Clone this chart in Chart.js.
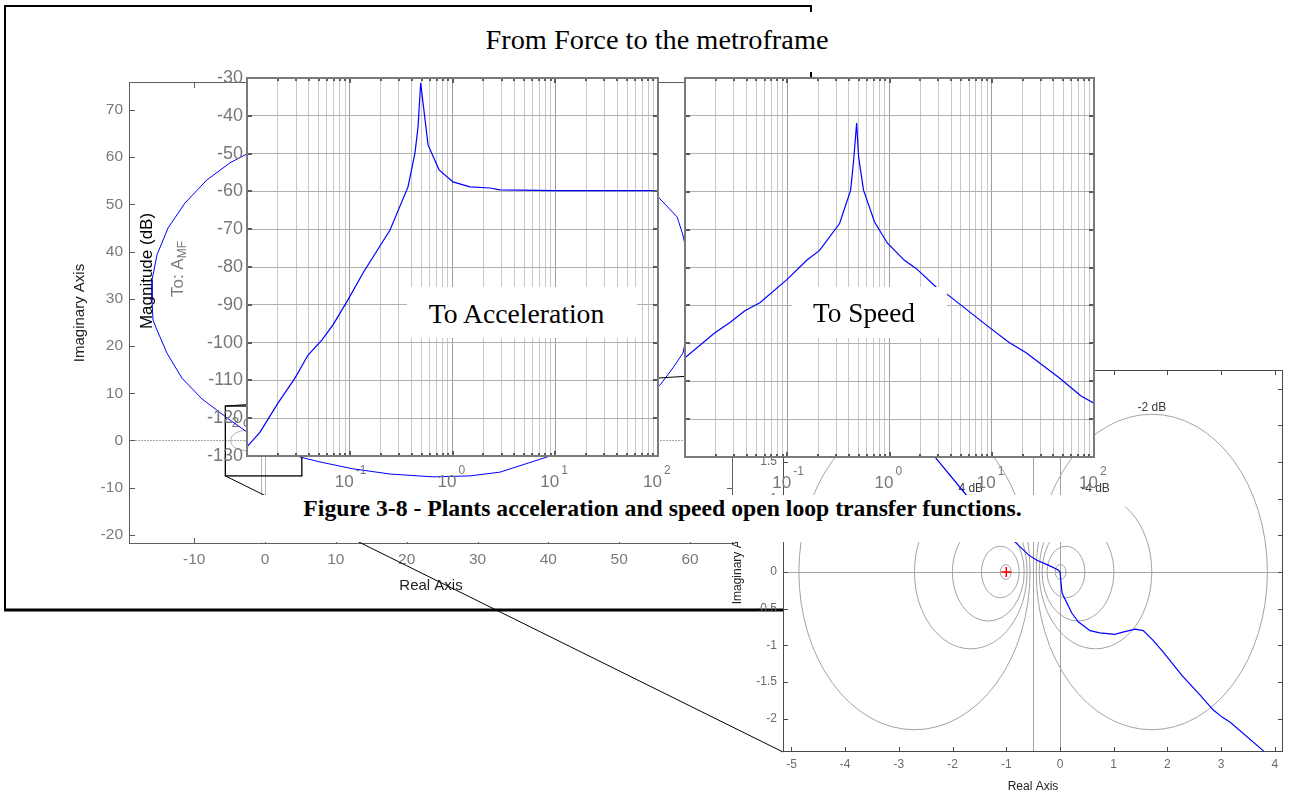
<!DOCTYPE html>
<html lang="en">
<head>
<meta charset="utf-8">
<title>From Force to the metroframe</title>
<script src="https://cdn.jsdelivr.net/npm/chart.js@4.4.1/dist/chart.umd.min.js"></script>
<style>
  html, body { margin: 0; padding: 0; background: #fff; }
  body { position: relative; width: 1290px; height: 796px; overflow: hidden; }
  canvas { position: absolute; }
  .tbox { position: absolute; background: #fff; }
  .tbox span { position: absolute; white-space: nowrap; line-height: 1; color: #000;
               font-family: "Liberation Serif", "DejaVu Serif", serif; transform: translateX(-50%); }
</style>
</head>
<body>
<canvas id="nyqBig"></canvas>
<canvas id="deco"></canvas>
<canvas id="nyqZoom"></canvas>
<canvas id="bodeAcc"></canvas>
<canvas id="bodeSpd"></canvas>
<script>
// ---------- frequency responses (rad/s, dB) ----------
const accFreq = [0.01, 0.0134, 0.020, 0.0293, 0.0393, 0.0537, 0.0687, 0.096, 0.1346, 0.2466, 0.369, 0.4315, 0.4617, 0.49, 0.578, 0.74, 1.01, 1.48, 2.32, 2.9, 10, 100];
const accMag  = [-127.6, -123.7, -116.0, -109.4, -103.3, -99.3, -95.3, -88.7, -81.6, -70.2, -58.8, -49.8, -43.0, -31.3, -47.7, -54.3, -57.5, -58.8, -59.1, -59.6, -59.8, -59.8];

const spdFreq = [0.01, 0.0196, 0.0275, 0.0385, 0.054, 0.101, 0.155, 0.207, 0.325, 0.417, 0.446, 0.477, 0.499, 0.557, 0.714, 0.955, 1.40, 1.83, 2.87, 3.60, 9.46, 14.8, 21.7, 45.6, 74.7, 100];
const spdMag  = [-103.8, -97.2, -94.5, -91.4, -89.3, -83.0, -78.1, -75.5, -68.4, -59.6, -51.7, -41.9, -50.9, -59.6, -68.0, -73.6, -78.1, -80.3, -85.2, -86.9, -95.8, -99.8, -102.5, -109.1, -113.9, -115.8];

// ---------- Nyquist locus ----------
const nyqRe = [16, -2.54, -4.94, -8.19, -11.29, -13.69, -15.25, -15.95, -15.95, -15.81, -15.25, -13.84, -11.72, -8.89, -5.36,
  -2.33, -1.71, -0.81, -0.58, -0.43, -0.24, -0.04, 0, 0.04, 0.22, 0.34, 0.56, 0.74, 1.02, 1.17, 1.40, 1.55, 1.73, 1.92, 2.27,
  2.61, 2.85, 3.02, 3.17, 3.82, 4.94, 7.77, 12.42, 17.65, 23.72, 28.94, 33.18, 39.81, 48.0, 55.8, 57.6, 59.0, 60.8, 59.0,
  58.2, 55.5, 45.0, 30.0, 16.0];
const nyqIm = [66.5, 60.7, 58.8, 55.2, 50.3, 45.0, 39.3, 34.0, 29.8, 25.5, 23.4, 18.5, 13.2, 8.8, 4.8,
  1.57, 1.02, 0.39, 0.23, 0.16, 0.10, 0.03, 0, -0.29, -0.56, -0.68, -0.80, -0.83, -0.85, -0.82, -0.78, -0.80, -0.93, -1.09, -1.41,
  -1.68, -1.88, -1.98, -2.05, -2.46, -3.5, -4.55, -6.0, -7.1, -7.7, -7.5, -6.7, -3.5, 3.0, 11.8, 15.4, 18.5, 31.0, 43.5,
  47.3, 51.6, 60.0, 65.5, 66.5];
const criticalPoint = [-1, 0];

// ---------- ticks and grid levels ----------
const magTicks = [-130, -120, -110, -100, -90, -80, -70, -60, -50, -40, -30];
const decadeTicks = [0.1, 1, 10, 100];
const mCircleDb = [-20, -10, -6, -4, -2, 2, 4, 6, 10, 20];
const bigReTicks = [-10, 0, 10, 20, 30, 40, 50, 60];
const bigImTicks = [-20, -10, 0, 10, 20, 30, 40, 50, 60, 70];
const zoomReTicks = [-5, -4, -3, -2, -1, 0, 1, 2, 3, 4];
const zoomImTicks = [-2, -1.5, -1, -0.5, 0, 0.5, 1, 1.5, 2, 2.5];

// ---------- page layout: plot-area corners [l, t, r, b] and canvas margins [l, t, r, b] ----------
const LAYOUT = {
  nyqBig:  {plot: [129, 82, 733, 544],   pad: [70, 22, 12, 56]},
  nyqZoom: {plot: [783, 370, 1283, 752], pad: [58, 10, 7, 44]},
  bodeAcc: {plot: [247, 78, 658, 456],   pad: [122, 13, 20, 44]},
  bodeSpd: {plot: [685, 78, 1094, 457],  pad: [15, 13, 16, 43]}
};
const RANGE = {
  big:  {x: [-19.2, 66.07], y: [-21.92, 75.92]},
  zoom: {x: [-5.158, 4.153], y: [-2.456, 2.756]},
  bode: {x: [0.01, 100], y: [-130, -30]}
};
const ZOOM_BOX = {x: [-5.6, 5.2], y: [-7.5, 7.3]};

const SANS = '"Liberation Sans", Arial, sans-serif';
const DECO = {
  nyqBig: {xTicks: bigReTicks, yTicks: bigImTicks, tickLen: 6, labelSize: 15.5, labelColor: '#7a7a7a',
           xLabelGap: 20, yLabelGap: 6, titleSize: 15, xTitleGap: 46, yTitleGap: 49, yTitleShift: 0,
           gridColor: '#b5b5b5', realAxisColor: '#a8a8a8', realAxisDash: [2, 1], mLabelSize: 14, mLabelColor: '#808080',
           labelDb: [2], axisColor: '#5f5f5f'},
  nyqZoom: {xTicks: zoomReTicks, yTicks: zoomImTicks, tickLen: 5, labelSize: 12, labelColor: '#6a6a6a',
           xLabelGap: 16, yLabelGap: 6, titleSize: 12, xTitleGap: 38, yTitleGap: 45, yTitleShift: 4,
           gridColor: '#a4a4a4', realAxisColor: '#a4a4a4', realAxisDash: [], mLabelSize: 12, mLabelColor: '#3a3a3a',
           labelDb: [-4, -2, 2, 4], axisColor: '#4a4a4a'},
  bodeAcc: {yLabels: true, yTitle: true},
  bodeSpd: {yLabels: false, yTitle: false}
};

// 1..9 x 10^k positions of the log grid
const freqGrid = [];
for (let k = -2; k <= 1; k++) for (let m = 1; m <= 9; m++) freqGrid.push(+(m * Math.pow(10, k)).toPrecision(3));
freqGrid.push(100);
const isDecade = v => Math.abs(Math.log10(v) - Math.round(Math.log10(v))) < 1e-6;

// constant closed-loop magnitude circle for a level in dB
function mCircle(db) {
  const m = Math.pow(10, db / 20), m2 = m * m;
  return {c: -m2 / (m2 - 1), r: Math.abs(m / (m2 - 1))};
}

function mountCanvas(id) {
  const spec = LAYOUT[id];
  const [l, t, r, b] = spec.plot, [pl, pt, pr, pb] = spec.pad;
  const c = document.getElementById(id);
  c.width = r - l + pl + pr; c.height = b - t + pt + pb;
  c.style.left = (l - pl) + 'px'; c.style.top = (t - pt) + 'px';
  c.style.width = c.width + 'px'; c.style.height = c.height + 'px';
  return {canvas: c, padding: {left: pl, top: pt, right: pr, bottom: pb}, offset: [l - pl, t - pt]};
}

function axis(horizontal, extra) {
  return Object.assign({
    ticks: {display: false},
    border: {display: false},
    grid: {display: false, drawTicks: false},
    afterFit: s => { if (horizontal) s.height = 0; else s.width = 0; }
  }, extra);
}

function baseOptions(padding, scales) {
  return {
    responsive: false, animation: false, devicePixelRatio: 1, events: [],
    layout: {padding},
    plugins: {legend: {display: false}, tooltip: {enabled: false}, title: {display: false}},
    scales
  };
}

function fillArea(chart) {
  const {ctx, chartArea: a} = chart;
  ctx.save(); ctx.fillStyle = '#fff';
  ctx.fillRect(a.left, a.top, a.right - a.left, a.bottom - a.top);
  ctx.restore();
}

function rotatedText(ctx, x, y, parts) {
  // parts: [{text, font, color, dy}]
  ctx.save();
  ctx.translate(x, y); ctx.rotate(-Math.PI / 2);
  ctx.textBaseline = 'middle'; ctx.textAlign = 'left';
  let total = 0;
  parts.forEach(p => { ctx.font = p.font; p.w = ctx.measureText(p.text).width; total += p.w; });
  let cx = -total / 2;
  parts.forEach(p => { ctx.font = p.font; ctx.fillStyle = p.color; ctx.fillText(p.text, cx, p.dy || 0); cx += p.w; });
  ctx.restore();
}

// ---------- Nyquist axes decoration ----------
const nyqDeco = {
  id: 'nyqDeco',
  beforeDraw(chart) { fillArea(chart); },
  beforeDatasetsDraw(chart) {
    const o = DECO[chart.canvas.id];
    const {ctx, chartArea: a, scales: {x, y}} = chart;
    ctx.save();
    ctx.beginPath(); ctx.rect(a.left, a.top, a.right - a.left, a.bottom - a.top); ctx.clip();
    ctx.lineWidth = 1; ctx.strokeStyle = o.gridColor;
    mCircleDb.forEach(db => {
      const {c, r} = mCircle(db);
      const cx = x.getPixelForValue(c), cy = y.getPixelForValue(0);
      const rx = Math.abs(x.getPixelForValue(c + r) - cx), ry = Math.abs(y.getPixelForValue(r) - cy);
      ctx.beginPath(); ctx.ellipse(cx, cy, rx, ry, 0, 0, Math.PI * 2); ctx.stroke();
    });
    [-0.5, 0].forEach(v => {
      const px = Math.round(x.getPixelForValue(v)) + 0.5;
      ctx.beginPath(); ctx.moveTo(px, a.top); ctx.lineTo(px, a.bottom); ctx.stroke();
    });
    ctx.strokeStyle = o.realAxisColor; ctx.setLineDash(o.realAxisDash);
    const py0 = Math.round(y.getPixelForValue(0)) + 0.5;
    ctx.beginPath(); ctx.moveTo(a.left, py0); ctx.lineTo(a.right, py0); ctx.stroke();
    ctx.setLineDash([]);
    ctx.fillStyle = o.mLabelColor; ctx.font = `${o.mLabelSize}px ${SANS}`;
    ctx.textAlign = 'center'; ctx.textBaseline = 'alphabetic';
    o.labelDb.forEach(db => {
      const {c, r} = mCircle(db);
      ctx.fillText(`${db} dB`, x.getPixelForValue(c), y.getPixelForValue(r) - 3);
    });
    ctx.restore();
  },
  afterDraw(chart) {
    const o = DECO[chart.canvas.id];
    const {ctx, chartArea: a, scales: {x, y}} = chart;
    ctx.save();
    ctx.strokeStyle = o.axisColor; ctx.lineWidth = 1;
    ctx.strokeRect(a.left + 0.5, a.top + 0.5, a.right - a.left - 1, a.bottom - a.top - 1);
    ctx.beginPath();
    o.xTicks.forEach(v => {
      const px = Math.round(x.getPixelForValue(v)) + 0.5;
      ctx.moveTo(px, a.bottom); ctx.lineTo(px, a.bottom - o.tickLen);
      ctx.moveTo(px, a.top); ctx.lineTo(px, a.top + o.tickLen);
    });
    o.yTicks.forEach(v => {
      const py = Math.round(y.getPixelForValue(v)) + 0.5;
      ctx.moveTo(a.left, py); ctx.lineTo(a.left + o.tickLen, py);
      ctx.moveTo(a.right, py); ctx.lineTo(a.right - o.tickLen, py);
    });
    ctx.stroke();
    ctx.fillStyle = o.labelColor; ctx.font = `${o.labelSize}px ${SANS}`;
    ctx.textAlign = 'center'; ctx.textBaseline = 'alphabetic';
    o.xTicks.forEach(v => ctx.fillText(String(v), x.getPixelForValue(v), a.bottom + o.xLabelGap));
    ctx.textAlign = 'right'; ctx.textBaseline = 'middle';
    o.yTicks.forEach(v => ctx.fillText(String(v), a.left - o.yLabelGap, y.getPixelForValue(v)));
    ctx.fillStyle = '#222'; ctx.font = `${o.titleSize}px ${SANS}`;
    ctx.textAlign = 'center'; ctx.textBaseline = 'alphabetic';
    ctx.fillText('Real Axis', (a.left + a.right) / 2, a.bottom + o.xTitleGap);
    rotatedText(ctx, a.left - o.yTitleGap, (a.top + a.bottom) / 2 + o.yTitleShift,
      [{text: 'Imaginary Axis', font: `${o.titleSize}px ${SANS}`, color: '#222'}]);
    ctx.restore();
  }
};

// ---------- Bode magnitude axes decoration ----------
const bodeDeco = {
  id: 'bodeDeco',
  beforeDraw(chart) { fillArea(chart); },
  afterDraw(chart) {
    const o = DECO[chart.canvas.id];
    const {ctx, chartArea: a, scales: {x, y}} = chart;
    ctx.save();
    ctx.strokeStyle = '#5a5a5a'; ctx.lineWidth = 2;
    ctx.beginPath();
    freqGrid.forEach(v => {
      const px = Math.round(x.getPixelForValue(v));
      const len = isDecade(v) ? 5 : 3;
      ctx.moveTo(px, a.top); ctx.lineTo(px, a.top + len);
      ctx.moveTo(px, a.bottom); ctx.lineTo(px, a.bottom - len);
    });
    magTicks.forEach(v => {
      const py = Math.round(y.getPixelForValue(v));
      ctx.moveTo(a.left, py); ctx.lineTo(a.left + 5, py);
      ctx.moveTo(a.right, py); ctx.lineTo(a.right - 5, py);
    });
    ctx.stroke();
    ctx.strokeStyle = '#7a7a7a'; ctx.lineWidth = 2;
    ctx.strokeRect(a.left, a.top, a.right - a.left, a.bottom - a.top);

    ctx.fillStyle = '#777';
    if (o.yLabels) {
      ctx.font = `18px ${SANS}`; ctx.textAlign = 'right'; ctx.textBaseline = 'middle';
      magTicks.forEach(v => ctx.fillText(String(v), a.left - 4, y.getPixelForValue(v)));
    }
    decadeTicks.forEach(v => {
      const px = x.getPixelForValue(v);
      ctx.textBaseline = 'alphabetic';
      ctx.font = `17px ${SANS}`; ctx.textAlign = 'right';
      ctx.fillText('10', px + 4, a.bottom + 31);
      ctx.font = `12px ${SANS}`; ctx.textAlign = 'left';
      ctx.fillText(String(Math.round(Math.log10(v))), px + 6, a.bottom + 18);
    });
    if (o.yTitle) {
      rotatedText(ctx, a.left - 100, (a.top + a.bottom) / 2 + 4,
        [{text: 'Magnitude (dB)', font: `17px ${SANS}`, color: '#000'}]);
      rotatedText(ctx, a.left - 69, (a.top + a.bottom) / 2 + 2,
        [{text: 'To: A', font: `17px ${SANS}`, color: '#7a7a7a'},
         {text: 'MF', font: `12px ${SANS}`, color: '#7a7a7a', dy: 5}]);
    }
    ctx.restore();
  }
};

// ---------- charts ----------
const nyqPoints = nyqRe.map((re, i) => ({x: re, y: nyqIm[i]}));
function nyqDatasets(width) {
  return [
    {data: nyqPoints, showLine: true, borderColor: '#0000ff', borderWidth: width, pointRadius: 0, tension: 0},
    {data: [{x: criticalPoint[0], y: criticalPoint[1]}], showLine: false, pointStyle: 'cross',
     pointRadius: 5, borderColor: '#ff0000', borderWidth: 1.5}
  ];
}

const bigM = mountCanvas('nyqBig');
const bigChart = new Chart(bigM.canvas, {
  type: 'scatter',
  data: {datasets: nyqDatasets(1)},
  options: baseOptions(bigM.padding, {
    x: axis(true, {type: 'linear', min: RANGE.big.x[0], max: RANGE.big.x[1]}),
    y: axis(false, {type: 'linear', min: RANGE.big.y[0], max: RANGE.big.y[1]})
  }),
  plugins: [nyqDeco]
});

const zoomM = mountCanvas('nyqZoom');
const zoomChart = new Chart(zoomM.canvas, {
  type: 'scatter',
  data: {datasets: nyqDatasets(1.2)},
  options: baseOptions(zoomM.padding, {
    x: axis(true, {type: 'linear', min: RANGE.zoom.x[0], max: RANGE.zoom.x[1]}),
    y: axis(false, {type: 'linear', min: RANGE.zoom.y[0], max: RANGE.zoom.y[1]})
  }),
  plugins: [nyqDeco]
});

function bodeChart(id, freq, mag) {
  const m = mountCanvas(id);
  return new Chart(m.canvas, {
    type: 'scatter',
    data: {datasets: [{data: freq.map((f, i) => ({x: f, y: mag[i]})), showLine: true,
      borderColor: '#0000ff', borderWidth: 1.2, pointRadius: 0, tension: 0}]},
    options: baseOptions(m.padding, {
      x: axis(true, {type: 'logarithmic', min: RANGE.bode.x[0], max: RANGE.bode.x[1],
        grid: {display: true, drawTicks: false, lineWidth: 1,
               color: c => (c.tick && isDecade(c.tick.value)) ? '#9c9c9c' : '#c8c8c8'},
        afterBuildTicks: s => { s.ticks = freqGrid.map(v => ({value: v})); }}),
      y: axis(false, {type: 'linear', min: RANGE.bode.y[0], max: RANGE.bode.y[1],
        grid: {display: true, drawTicks: false, lineWidth: 1, color: '#b0b0b0'},
        afterBuildTicks: s => { s.ticks = magTicks.map(v => ({value: v})); }})
    }),
    plugins: [bodeDeco]
  });
}
const accChart = bodeChart('bodeAcc', accFreq, accMag);
const spdChart = bodeChart('bodeSpd', spdFreq, spdMag);

// ---------- figure frame, zoom box and its connectors ----------
(function drawDeco() {
  const c = document.getElementById('deco');
  c.width = 1290; c.height = 796; c.style.left = '0px'; c.style.top = '0px';
  const ctx = c.getContext('2d');
  ctx.strokeStyle = '#000';
  ctx.lineWidth = 2;
  ctx.beginPath();
  ctx.moveTo(4, 6); ctx.lineTo(812, 6);
  ctx.moveTo(5, 5); ctx.lineTo(5, 611);
  ctx.moveTo(811, 5); ctx.lineTo(811, 611);
  ctx.stroke();
  ctx.lineWidth = 3;
  ctx.beginPath(); ctx.moveTo(4, 610); ctx.lineTo(812, 610); ctx.stroke();

  const sx = bigChart.scales.x, sy = bigChart.scales.y;
  const x0 = bigM.offset[0] + sx.getPixelForValue(ZOOM_BOX.x[0]);
  const x1 = bigM.offset[0] + sx.getPixelForValue(ZOOM_BOX.x[1]);
  const yTop = bigM.offset[1] + sy.getPixelForValue(ZOOM_BOX.y[1]);
  const yBot = bigM.offset[1] + sy.getPixelForValue(ZOOM_BOX.y[0]);
  ctx.lineWidth = 1.3;
  ctx.strokeRect(x0, yTop, x1 - x0, yBot - yTop);
  const za = zoomChart.chartArea;
  const zl = zoomM.offset[0] + za.left, zt = zoomM.offset[1] + za.top, zb = zoomM.offset[1] + za.bottom;
  ctx.lineWidth = 1;
  ctx.beginPath();
  ctx.moveTo(x0, yTop); ctx.lineTo(zl, zt);
  ctx.moveTo(x0, yBot); ctx.lineTo(zl, zb);
  ctx.stroke();
})();

// ---------- text panels ----------
const TEXTS = [
  {text: 'From Force to the metroframe', box: [470, 12, 850, 72], cx: 657, base: 50, width: 343, weight: 400},
  {text: 'To Acceleration', box: [407, 287, 637, 338], cx: 516.5, base: 323, width: 177, weight: 400},
  {text: 'To Speed', box: [792, 287, 947, 338], cx: 864, base: 323, width: 102, weight: 400},
  {text: 'Figure 3-8 - Plants acceleration and speed open loop transfer functions.',
   box: [200, 495, 1125, 542], cx: 662.5, base: 517, width: 719, weight: 700}
];
const measure = document.createElement('canvas').getContext('2d');
TEXTS.forEach(t => {
  const [l, tp, r, b] = t.box;
  const div = document.createElement('div');
  div.className = 'tbox';
  Object.assign(div.style, {left: l + 'px', top: tp + 'px', width: (r - l) + 'px', height: (b - tp) + 'px'});
  const span = document.createElement('span');
  span.textContent = t.text;
  measure.font = `${t.weight} 100px "Liberation Serif"`;
  const fs = 100 * t.width / measure.measureText(t.text).width;
  Object.assign(span.style, {fontSize: fs.toFixed(2) + 'px', fontWeight: t.weight,
    left: (t.cx - l) + 'px', top: (t.base - 0.8375 * fs - tp).toFixed(1) + 'px'});
  div.appendChild(span);
  document.body.appendChild(div);
});
</script>
</body>
</html>
